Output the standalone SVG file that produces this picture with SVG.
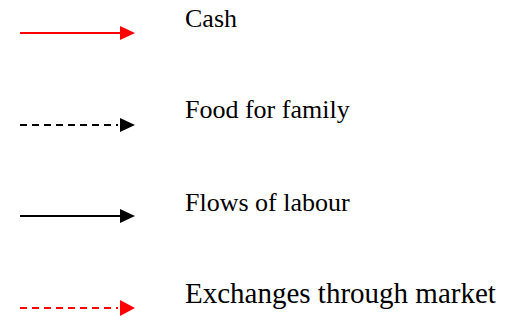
<svg xmlns="http://www.w3.org/2000/svg" width="508" height="320" viewBox="0 0 508 320">
<style>
.lbl{font-family:"Liberation Serif","Times New Roman",serif;fill:#000}
.red{stroke:#ff0000;fill:none;stroke-width:2}
.blk{stroke:#000;fill:none;stroke-width:2}
.dash{stroke-dasharray:7 5}
</style>
<rect width="508" height="320" fill="#fff"/>
<g id="connectors">
<line class="red" x1="20" y1="33" x2="121" y2="33"/>
<polygon points="120,26 135,33 120,40" fill="#ff0000"/>
<line class="blk dash" x1="20" y1="125" x2="118" y2="125"/>
<polygon points="120,118 135,125 120,132" fill="#000"/>
<line class="blk" x1="20" y1="216" x2="121" y2="216"/>
<polygon points="120,209 135,216 120,223" fill="#000"/>
<line class="red dash" x1="20" y1="308" x2="118" y2="308"/>
<polygon points="120,300 135,308 120,316" fill="#ff0000"/>
</g>
<g id="label-cash"><text class="lbl" x="185" y="27" font-size="26">Cash</text></g>
<g id="label-food"><text class="lbl" x="185" y="118" font-size="26">Food for family</text></g>
<g id="label-labour"><text class="lbl" x="185" y="211" font-size="26">Flows of labour</text></g>
<g id="label-market"><text class="lbl" x="185" y="303" font-size="29">Exchanges through market</text></g>
</svg>
